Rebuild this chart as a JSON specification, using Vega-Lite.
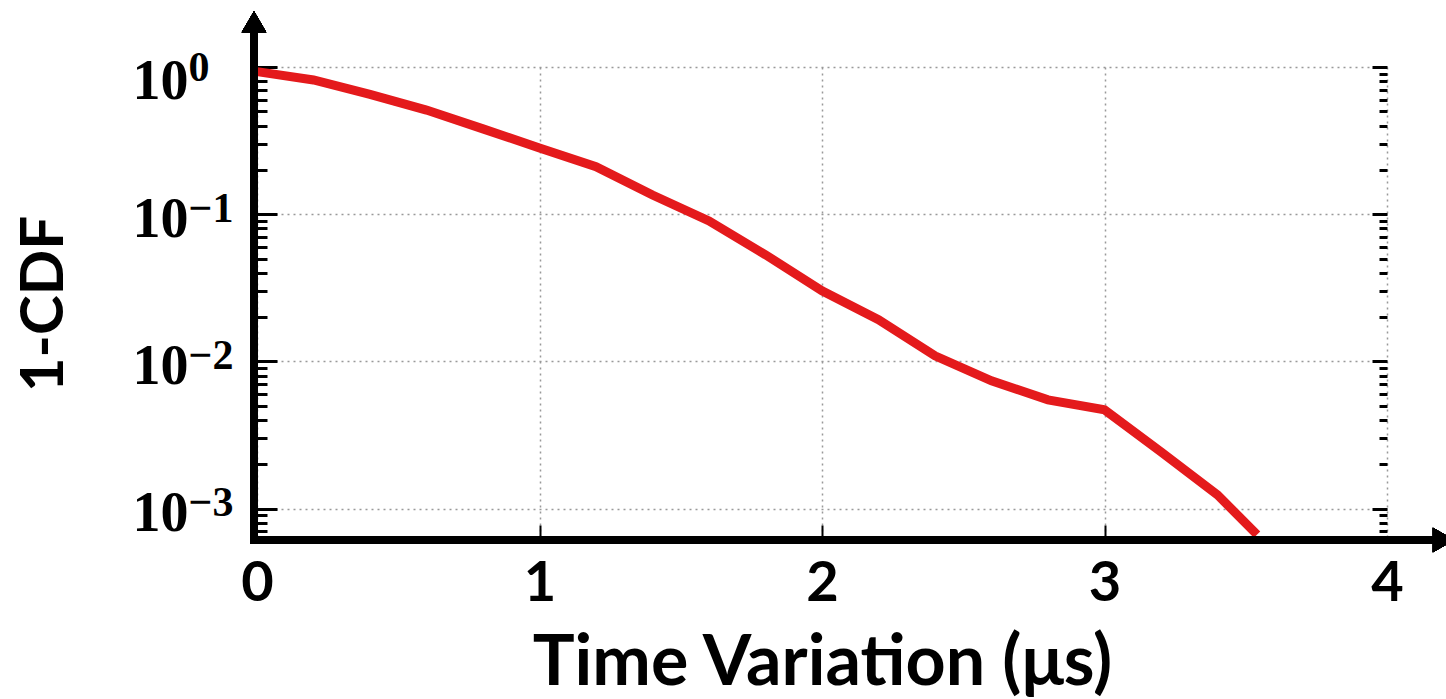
{
  "$schema": "https://vega.github.io/schema/vega-lite/v6.json",
  "width": 1130,
  "height": 473,
  "autosize": {"type": "none"},
  "padding": {"left": 257, "top": 67, "right": 59, "bottom": 159},
  "background": "white",
  "config": {"view": {"stroke": null}},
  "data": {
    "values": [
      {"t": 0.0, "v": 0.93},
      {"t": 0.2, "v": 0.816},
      {"t": 0.4, "v": 0.652},
      {"t": 0.6, "v": 0.51},
      {"t": 0.8, "v": 0.38},
      {"t": 1.0, "v": 0.282},
      {"t": 1.2, "v": 0.21},
      {"t": 1.4, "v": 0.135},
      {"t": 1.6, "v": 0.09},
      {"t": 1.8, "v": 0.053},
      {"t": 2.0, "v": 0.0302},
      {"t": 2.2, "v": 0.0192},
      {"t": 2.4, "v": 0.0109},
      {"t": 2.6, "v": 0.00738},
      {"t": 2.8, "v": 0.00548},
      {"t": 3.0, "v": 0.00469},
      {"t": 3.2, "v": 0.00243},
      {"t": 3.4, "v": 0.00124},
      {"t": 3.54, "v": 0.000665}
    ]
  },
  "layer": [
    {
      "mark": {"type": "line", "color": "#E41A1C", "strokeWidth": 9, "strokeCap": "butt"},
      "encoding": {
        "x": {
          "field": "t", "type": "quantitative",
          "scale": {"domain": [0, 4], "nice": false, "zero": false},
          "axis": {
            "values": [0, 1, 2, 3, 4],
            "format": "d",
            "domain": false,
            "title": "Time Variation (μs)",
            "titleFont": "Lato", "titleFontSize": 70, "titleFontWeight": "bold", "titleColor": "black", "titlePadding": 18,
            "labelFont": "Lato", "labelFontSize": 56, "labelFontWeight": "bold", "labelColor": "black",
            "labelBaseline": "middle", "labelPadding": 58, "labelFlush": false, "labelOverlap": false,
            "tickSize": -15, "tickWidth": 2,
            "tickColor": {"condition": {"test": "datum.value == 0 || datum.value == 4", "value": "transparent"}, "value": "black"},
            "grid": true, "gridColor": "#999999", "gridDash": [2, 4], "gridWidth": 1.5
          }
        },
        "y": {
          "field": "v", "type": "quantitative",
          "scale": {"type": "log", "domain": [0.000612, 1], "nice": false},
          "axis": {
            "values": [0.0007, 0.0008, 0.0009, 0.001, 0.002, 0.003, 0.004, 0.005, 0.006, 0.007, 0.008, 0.009, 0.01, 0.02, 0.03, 0.04, 0.05, 0.06, 0.07, 0.08, 0.09, 0.1, 0.2, 0.3, 0.4, 0.5, 0.6, 0.7, 0.8, 0.9, 1],
            "domain": false,
            "labelExpr": "abs(log(datum.value)/LN10 - round(log(datum.value)/LN10)) < 0.001 ? '10' : ''",
            "labelFont": "Liberation Serif", "labelFontSize": 56, "labelFontWeight": "bold", "labelColor": "black",
            "labelAlign": "left", "labelBaseline": "middle", "labelPadding": 145, "labelOverlap": false, "labelFlush": false,
            "labelOffset": {"condition": {"test": "datum.value == 1", "value": 14}, "value": 5},
            "tickSize": {"condition": {"test": "abs(log(datum.value)/LN10 - round(log(datum.value)/LN10)) < 0.001", "value": -20}, "value": -10},
            "tickWidth": 3, "tickColor": "black",
            "grid": true, "gridColor": "#999999", "gridDash": [2, 4], "gridWidth": 1.5,
            "gridOpacity": {"condition": {"test": "abs(log(datum.value)/LN10 - round(log(datum.value)/LN10)) < 0.001", "value": 1}, "value": 0},
            "title": "1-CDF",
            "titleFont": "Lato", "titleFontSize": 60, "titleFontWeight": "bold", "titleColor": "black", "titlePadding": 47
          }
        }
      }
    },
    {
      "mark": {"type": "line", "strokeOpacity": 0},
      "encoding": {
        "x": {"field": "t", "type": "quantitative", "scale": {"domain": [0, 4], "nice": false, "zero": false}},
        "y": {
          "field": "v", "type": "quantitative",
          "scale": {"type": "log", "domain": [0.000612, 1], "nice": false},
          "axis": {
            "orient": "right",
            "values": [0.0007, 0.0008, 0.0009, 0.001, 0.002, 0.003, 0.004, 0.005, 0.006, 0.007, 0.008, 0.009, 0.01, 0.02, 0.03, 0.04, 0.05, 0.06, 0.07, 0.08, 0.09, 0.1, 0.2, 0.3, 0.4, 0.5, 0.6, 0.7, 0.8, 0.9, 1],
            "domain": false, "labels": false, "grid": false, "title": null,
            "tickSize": {"condition": {"test": "abs(log(datum.value)/LN10 - round(log(datum.value)/LN10)) < 0.001", "value": -15}, "value": -8},
            "tickWidth": 3, "tickColor": "black"
          }
        }
      }
    },
    {
      "mark": {"type": "line", "strokeOpacity": 0},
      "encoding": {
        "x": {"field": "t", "type": "quantitative", "scale": {"domain": [0, 4], "nice": false, "zero": false}},
        "y": {
          "field": "v", "type": "quantitative",
          "scale": {"type": "log", "domain": [0.000612, 1], "nice": false},
          "axis": {
            "orient": "left",
            "values": [0.001, 0.01, 0.1, 1],
            "domain": false, "ticks": false, "grid": false, "title": null,
            "labelExpr": "datum.value == 1 ? '0' : '−' + format(-round(log(datum.value)/LN10), 'd')",
            "labelFont": "Liberation Serif", "labelFontSize": 42, "labelFontWeight": "bold", "labelColor": "black",
            "labelAlign": "left", "labelBaseline": "middle", "labelPadding": 69, "labelOverlap": false, "labelFlush": false,
            "labelOffset": {"condition": {"test": "datum.value == 1", "value": 0}, "value": -6}
          }
        }
      }
    },
    {
      "mark": {"type": "rule", "color": "black", "strokeWidth": 7, "strokeCap": "square", "xOffset": -3},
      "encoding": {
        "x": {"datum": 0, "type": "quantitative", "scale": {"domain": [0, 4], "nice": false, "zero": false}},
        "y": {"datum": 0.000612, "type": "quantitative", "scale": {"type": "log", "domain": [0.000612, 1], "nice": false}, "axis": null},
        "y2": {"datum": 2.03}
      }
    },
    {
      "mark": {"type": "rule", "color": "black", "strokeWidth": 7, "strokeCap": "square"},
      "encoding": {
        "x": {"datum": 0, "type": "quantitative", "scale": {"domain": [0, 4], "nice": false, "zero": false}},
        "x2": {"datum": 4.2},
        "y": {"datum": 0.000612, "type": "quantitative", "scale": {"type": "log", "domain": [0.000612, 1], "nice": false}, "axis": null}
      }
    },
    {
      "mark": {"type": "point", "shape": "triangle-up", "filled": true, "color": "black", "opacity": 1, "size": 600, "xOffset": -3},
      "encoding": {
        "x": {"datum": 0, "type": "quantitative", "scale": {"domain": [0, 4], "nice": false, "zero": false}},
        "y": {"datum": 2.03, "type": "quantitative", "scale": {"type": "log", "domain": [0.000612, 1], "nice": false}, "axis": null}
      }
    },
    {
      "mark": {"type": "point", "shape": "triangle-right", "filled": true, "color": "black", "opacity": 1, "size": 600},
      "encoding": {
        "x": {"datum": 4.2, "type": "quantitative", "scale": {"domain": [0, 4], "nice": false, "zero": false}},
        "y": {"datum": 0.000612, "type": "quantitative", "scale": {"type": "log", "domain": [0.000612, 1], "nice": false}, "axis": null}
      }
    }
  ],
  "resolve": {"axis": {"y": "independent"}}
}
